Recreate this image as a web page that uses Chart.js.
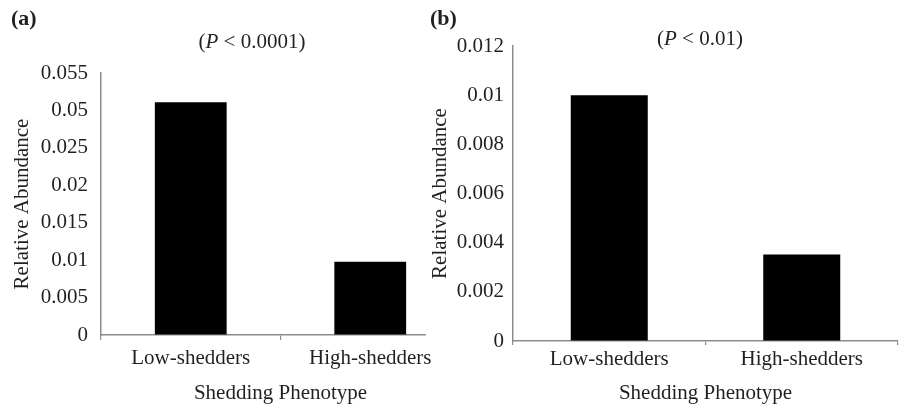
<!DOCTYPE html>
<html>
<head>
<meta charset="utf-8">
<script src="https://cdn.jsdelivr.net/npm/chart.js@4"></script>
<style>
    body { margin: 0; background: #fff; }
    #wrap { position: relative; width: 912px; height: 407px; overflow: hidden; font-family: "Liberation Serif", serif; color: #231f20; }
    .panel { position: absolute; top: 0; height: 407px; }
    .tag { position: absolute; font-size: 22px; font-weight: bold; }
    .pval { position: absolute; font-size: 21px; transform: translateX(-50%); white-space: nowrap; }
    .mask { position: absolute; background: #fff; }
</style>
</head>
<body>
<div id="wrap">
    <div class="panel" style="left:0;width:470px;"><canvas id="chartA"></canvas></div>
    <div class="panel" style="left:420px;width:492px;"><canvas id="chartB"></canvas></div>
    <!-- the printed x axis of panel (a) stops short of the last category edge -->
    <div class="mask" style="left:426px;top:330px;width:38px;height:12px;"></div>
    <div class="tag" style="left:11px;top:5px;">(a)</div>
    <div class="tag" style="left:430px;top:5px;">(b)</div>
    <div class="pval" style="left:252px;top:29px;">(<i>P</i> &lt; 0.0001)</div>
    <div class="pval" style="left:700px;top:26px;">(<i>P</i> &lt; 0.01)</div>
</div>
<script>
// Shared categories
const categories = ['Low-shedders', 'High-shedders'];

// Panel (a) - bar heights on the plotted scale, and the printed tick labels
const aValues = [0.0311, 0.0098];
const aTickValues = [0, 0.005, 0.01, 0.015, 0.02, 0.025, 0.03, 0.035];
const aTickLabels = ['0', '0.005', '0.01', '0.015', '0.02', '0.025', '0.05', '0.055'];

// Panel (b)
const bValues = [0.0100, 0.00352];
const bTickValues = [0, 0.002, 0.004, 0.006, 0.008, 0.01, 0.012];
const bTickLabels = ['0', '0.002', '0.004', '0.006', '0.008', '0.01', '0.012'];

const FONT = 'Liberation Serif';
const TEXT = '#231f20';
const AXIS = '#8c8c8c';

Chart.defaults.font.family = FONT;
Chart.defaults.color = TEXT;

function makePanel(id, values, tickValues, tickLabels, cfg) {
    const ctx = document.getElementById(id);
    return new Chart(ctx.getContext('2d'), {
        type: 'bar',
        data: {
            labels: categories,
            datasets: [{
                data: values,
                backgroundColor: '#000',
                borderWidth: 0,
                categoryPercentage: 0.8,
                barPercentage: 0.5
            }]
        },
        options: {
            responsive: false,
            animation: false,
            devicePixelRatio: 1,
            layout: { padding: cfg.padding },
            plugins: { legend: { display: false }, tooltip: { enabled: false } },
            scales: {
                x: {
                    offset: true,
                    grid: { display: true, drawOnChartArea: false, offset: true, tickLength: cfg.xTickLen, color: AXIS, lineWidth: 1.2 },
                    border: { display: true, color: AXIS, width: 1.5 },
                    ticks: { font: { size: 21 }, padding: cfg.xTickPad, color: TEXT, maxRotation: 0 },
                    title: { display: true, text: 'Shedding Phenotype', font: { size: 21 }, padding: { top: 0, bottom: 1 }, color: TEXT },
                    afterFit: s => { s.height = cfg.xHeight; }
                },
                y: {
                    min: tickValues[0],
                    max: tickValues[tickValues.length - 1],
                    afterBuildTicks: s => { s.ticks = tickValues.map(v => ({ value: v })); },
                    grid: { display: true, drawOnChartArea: false, drawTicks: false },
                    border: { display: true, color: AXIS, width: 1.5 },
                    ticks: { font: { size: 21 }, padding: cfg.yTickPad, color: TEXT, callback: (v, i) => tickLabels[i] },
                    title: { display: true, text: 'Relative Abundance', font: { size: 21 }, padding: { top: cfg.yTitlePad, bottom: 0 }, color: TEXT },
                    afterFit: s => { s.width = cfg.yWidth; }
                }
            }
        }
    });
}

document.getElementById('chartA').width = 470;
document.getElementById('chartA').height = 407;
document.getElementById('chartB').width = 492;
document.getElementById('chartB').height = 407;

makePanel('chartA', aValues, aTickValues, aTickLabels, {
    padding: { top: 73, right: 10, bottom: 0, left: 0 },
    xHeight: 72, yWidth: 101, xTickLen: 5, xTickPad: 6, yTickPad: 13, yTitlePad: 10
});

makePanel('chartB', bValues, bTickValues, bTickLabels, {
    padding: { top: 46, right: 14, bottom: 0, left: 0 },
    xHeight: 66, yWidth: 93, xTickLen: 4, xTickPad: 2, yTickPad: 9, yTitlePad: 8
});
</script>
</body>
</html>
